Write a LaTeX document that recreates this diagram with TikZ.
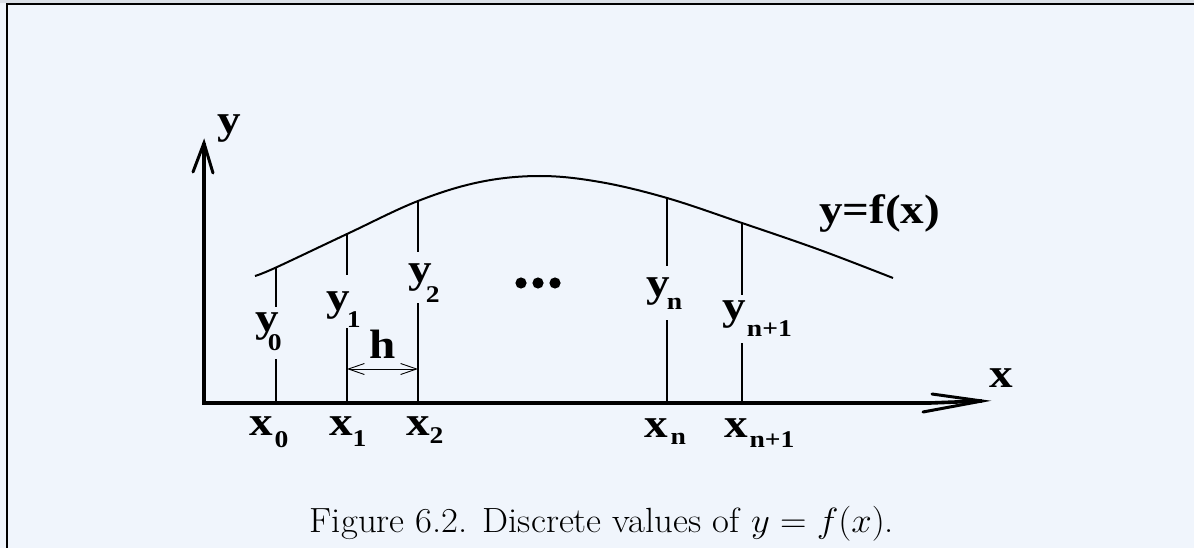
\documentclass[tikz,border=0pt]{standalone}
\usepackage{fix-cm}
\usepackage{fontspec}
\usetikzlibrary{arrows.meta}
\newfontfamily\lblfont{Liberation Serif}[FakeStretch=1.15]
\definecolor{bgblue}{HTML}{F0F5FC}
\definecolor{topgray}{HTML}{DADFE6}
\newcommand{\lab}[4]{{\lblfont\bfseries\fontsize{41}{41}\selectfont #1\kern#3pt\raisebox{-#4pt}{\fontsize{24}{24}\selectfont #2}}}
\tikzset{
  lbl/.style={inner sep=0pt, outer sep=0pt, anchor=base west, font=\lblfont\bfseries\fontsize{41}{41}\selectfont},
  axisline/.style={line width=3.6pt},
  ordinate/.style={line width=1.1pt},
  curve/.style={line width=2pt},
}
\begin{document}
\begin{tikzpicture}[x=1pt,y=-1pt]
\useasboundingbox (0,0) rectangle (1194,548);
\fill[bgblue] (0,0) rectangle (1194,548);
\fill[topgray] (0,0) rectangle (1194,3);
\draw[line width=2.2pt] (7,548) -- (7,4.2) -- (1194,4.2);
% axes
\coordinate (O) at (204,403);
\coordinate (ytip) at (204,143);
\coordinate (xtip) at (982,401);
\draw[axisline] (204,404.8) -- (ytip);
\draw[line width=3pt, line cap=round] (193,172) -- (ytip) -- (213,173);
\draw[axisline] (202.2,403) -- (930,403) -- (xtip);
\draw[line width=3pt, line cap=round] (932,394) -- (xtip) -- (923,412);
\node[lbl] (ylab) at (217,134) {y};
\node[lbl] (xlab) at (989,387) {x};
% curve
\draw[curve] plot[smooth, tension=0.6] coordinates {(255,276) (276,267.5) (347,234) (418,201) (480,182) (540,176) (600,182) (667,198) (742,223) (820,250) (893,278)};
% ordinates
\draw[ordinate] (276,268) -- (276,307) (276,359) -- (276,403);
\draw[ordinate] (347,235) -- (347,275) (347,328) -- (347,403);
\draw[ordinate] (418,202) -- (418,252) (418,303) -- (418,403);
\draw[ordinate] (667,198) -- (667,266) (667,320) -- (667,403);
\draw[ordinate] (742,223) -- (742,295) (742,343) -- (742,403);
% y labels
\node[lbl] (y0) at (255,331) {\lab{y}{0}{-10.6}{19}};
\node[lbl] (y1) at (326,310) {\lab{y}{1}{-2.6}{17}};
\node[lbl] (y2) at (408,282) {\lab{y}{2}{-5.6}{20}};
\node[lbl] (yn) at (646,296) {\lab{y}{n}{-2.6}{13}};
\node[lbl] (yn1) at (722,319) {\lab{y}{n+1}{1.4}{17}};
% x labels
\node[lbl] (x0) at (249,435) {\lab{x}{0}{2}{12}};
\node[lbl] (x1) at (329,435) {\lab{x}{1}{0}{11}};
\node[lbl] (x2) at (406,435) {\lab{x}{2}{0}{8}};
\node[lbl] (xn) at (644,437) {\lab{x}{n}{3}{7}};
\node[lbl] (xn1) at (724,437) {\lab{x}{n+1}{2}{10}};
% h
\coordinate (hL) at (347,369);
\coordinate (hR) at (418,369);
\draw[line width=0.9pt, {Straight Barb[length=16pt,width=11pt]}-{Straight Barb[length=16pt,width=11pt]}] (hL) -- (hR);
\node[lbl, anchor=base] (h) at (383,358) {h};
% dots
\fill (521,283) circle (5.6) (538,283) circle (5.6) (555,283) circle (5.6);
% function label
\node[lbl] (flab) at (819,224) {y=f(x)};
% caption
\node[inner sep=0pt, anchor=base, font=\fontsize{35}{42}\selectfont] (cap) at (602,532) {\scalebox{1.05}[1]{Figure 6.2. Discrete values of $y = f(x)$.}};
\end{tikzpicture}
\end{document}
